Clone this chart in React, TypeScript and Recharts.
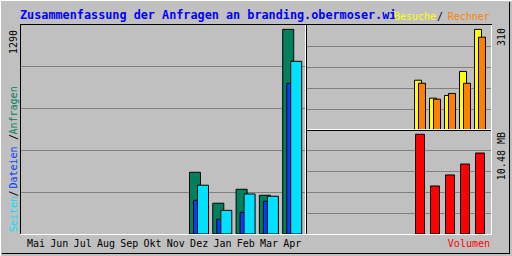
import { Bar, BarChart, CartesianGrid, XAxis, YAxis } from "recharts"

const months = ["Mai", "Jun", "Jul", "Aug", "Sep", "Okt", "Nov", "Dez", "Jan", "Feb", "Mar", "Apr"]
const anfragen = [0, 0, 0, 0, 0, 0, 0, 381, 190, 276, 239, 1263]
const dateien = [0, 0, 0, 0, 0, 0, 0, 208, 91, 134, 202, 930]
const seiten = [0, 0, 0, 0, 0, 0, 0, 301, 146, 247, 233, 1066]
const besuche = [0, 0, 0, 0, 0, 0, 0, 147, 94, 102, 173, 297]
const rechner = [0, 0, 0, 0, 0, 0, 0, 138, 91, 108, 138, 274]
const volumen = [0, 0, 0, 0, 0, 0, 0, 10.05, 4.84, 5.95, 7.05, 8.16]

const maxHits = 1290
const maxVisits = 310
const maxVolume = 10.48

const mono = "'DejaVu Sans Mono', monospace"

const data = months.map((month, i) => ({
    month,
    anfragen: anfragen[i],
    dateien: dateien[i],
    seiten: seiten[i],
    besuche: besuche[i],
    rechner: rechner[i],
    volumen: volumen[i],
}))

// grid lines at every fifth of the scale, like webalizer
const gridTicks = (max: number) => [1, 2, 3, 4].map(k => (max * k) / 5)

export default function App() {
    return (
        <div style={{ position: "fixed", left: 0, top: 0, width: 512, height: 256, background: "#c0c0c0" }}>
            <div style={{ position: "absolute", left: 20, top: 25 }}>
                <BarChart width={285} height={231} data={data} margin={{ top: 0, right: 0, bottom: 0, left: 0 }} barSize={11} barGap={-7}>
                    <CartesianGrid vertical={false} stroke="#808080" shapeRendering="crispEdges" horizontalValues={gridTicks(maxHits)} />
                    <XAxis dataKey="month" interval={0} tickLine={false} axisLine={false} tickSize={0} tickMargin={6} height={22}
                        padding={{ left: 4.4, right: 1 }} tick={{ fontFamily: mono, fontSize: 10, fill: "#000" }} />
                    <YAxis hide interval={0} domain={[0, maxHits]} ticks={gridTicks(maxHits)} />
                    <Bar dataKey="anfragen" fill="#00805c" stroke="#000" isAnimationActive={false} />
                    <Bar dataKey="dateien" fill="#0040ff" stroke="#000" isAnimationActive={false} />
                    <Bar dataKey="seiten" fill="#00e0ff" stroke="#000" isAnimationActive={false} />
                </BarChart>
            </div>
            <div style={{ position: "absolute", left: 305, top: 25 }}>
                <BarChart width={186} height={105} data={data} margin={{ top: 0, right: 0, bottom: 0, left: 0 }} barSize={7} barGap={-3}>
                    <CartesianGrid vertical={false} stroke="#808080" shapeRendering="crispEdges" horizontalValues={gridTicks(maxVisits)} />
                    <XAxis dataKey="month" hide padding={{ left: 2.5, right: 3.5 }} />
                    <YAxis hide interval={0} domain={[0, maxVisits]} ticks={gridTicks(maxVisits)} />
                    <Bar dataKey="besuche" fill="#ffff00" stroke="#000" isAnimationActive={false} />
                    <Bar dataKey="rechner" fill="#ff8000" stroke="#000" isAnimationActive={false} />
                </BarChart>
            </div>
            <div style={{ position: "absolute", left: 305, top: 130 }}>
                <BarChart width={186} height={104} data={data} margin={{ top: 0, right: 0, bottom: 0, left: 0 }} barSize={9}>
                    <CartesianGrid vertical={false} stroke="#808080" shapeRendering="crispEdges" horizontalValues={gridTicks(maxVolume)} />
                    <XAxis dataKey="month" hide padding={{ left: 2.5, right: 3.5 }} />
                    <YAxis hide interval={0} domain={[0, maxVolume]} ticks={gridTicks(maxVolume)} />
                    <Bar dataKey="volumen" fill="#ff0000" stroke="#000" isAnimationActive={false} />
                </BarChart>
            </div>
            <svg width={512} height={256} style={{ position: "absolute", left: 0, top: 0, pointerEvents: "none" }}>
                {/* outer frame */}
                <line x1={0} y1={0.5} x2={512} y2={0.5} stroke="#ffffff" />
                <line x1={0.5} y1={0} x2={0.5} y2={256} stroke="#ffffff" />
                <line x1={509.5} y1={2} x2={509.5} y2={254} stroke="#000" />
                <line x1={2} y1={253.5} x2={510} y2={253.5} stroke="#000" />

                {/* main panel */}
                <line x1={20} y1={24.5} x2={306} y2={24.5} stroke="#000" />
                <line x1={20.5} y1={24} x2={20.5} y2={235} stroke="#000" />
                <line x1={20} y1={234.5} x2={306} y2={234.5} stroke="#fff" />
                <line x1={305.5} y1={25} x2={305.5} y2={235} stroke="#fff" />

                {/* right panels */}
                <line x1={306} y1={24.5} x2={492} y2={24.5} stroke="#000" />
                <line x1={306.5} y1={24} x2={306.5} y2={235} stroke="#000" />
                <line x1={491.5} y1={25} x2={491.5} y2={235} stroke="#fff" />
                <line x1={307} y1={129.5} x2={492} y2={129.5} stroke="#fff" />
                <line x1={306} y1={130.5} x2={491} y2={130.5} stroke="#000" />
                <line x1={306} y1={234.5} x2={492} y2={234.5} stroke="#fff" />

                <text x={20} y={19} fontFamily={mono} fontWeight="bold" fontSize={11.8} fill="#0000ff">
                    Zusammenfassung der Anfragen an branding.obermoser.wi
                </text>
                <g fontFamily={mono} fontSize={10}>
                    <text x={394} y={20} fill="#ffff00">Besuche</text>
                    <text x={440} y={20} fill="#000" textAnchor="middle">/</text>
                    <text x={447.7} y={20} fill="#ff8000">Rechner</text>

                    <text transform="translate(16.5,30) rotate(-90)" textAnchor="end" fill="#000">1290</text>
                    <text transform="translate(16.5,232) rotate(-90)" fill="#00e0ff">Seiten</text>
                    <text transform="translate(16.5,193.5) rotate(-90)" textAnchor="middle" fill="#000">/</text>
                    <text transform="translate(16.5,188.5) rotate(-90)" fill="#0040ff">Dateien</text>
                    <text transform="translate(16.5,137) rotate(-90)" textAnchor="middle" fill="#000">/</text>
                    <text transform="translate(16.5,134.5) rotate(-90)" fill="#00805c">Anfragen</text>

                    <text transform="translate(504.5,28) rotate(-90)" textAnchor="end" fill="#000">310</text>
                    <text transform="translate(504.5,132) rotate(-90)" textAnchor="end" fill="#000">10.48 MB</text>

                    <text x={490} y={247} textAnchor="end" fill="#ff0000">Volumen</text>
                </g>
            </svg>
        </div>
    )
}
